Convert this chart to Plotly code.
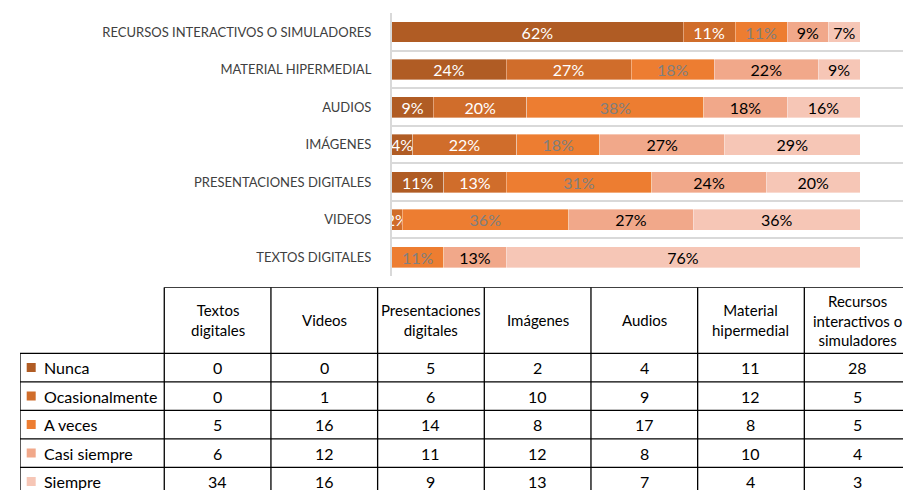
import plotly.graph_objects as go

# categories, bottom bar first (same order as the table columns)
categories = ["Textos digitales", "Videos", "Presentaciones digitales", "Imágenes",
              "Audios", "Material hipermedial", "Recursos interactivos o simuladores"]
table_headers = ["Textos<br>digitales", "Videos", "Presentaciones<br>digitales", "Imágenes",
                 "Audios", "Material<br>hipermedial", "Recursos<br>interactivos o<br>simuladores"]

series_names = ["Nunca", "Ocasionalmente", "A veces", "Casi siempre", "Siempre"]
nunca = [0, 0, 5, 2, 4, 11, 28]
ocasionalmente = [0, 1, 6, 10, 9, 12, 5]
a_veces = [5, 16, 14, 8, 17, 8, 5]
casi_siempre = [6, 12, 11, 12, 8, 10, 4]
siempre = [34, 16, 9, 13, 7, 4, 3]
series_values = [nunca, ocasionalmente, a_veces, casi_siempre, siempre]

colors = ["#B05C24", "#D06D2B", "#ED7D31", "#F1A88A", "#F6C6B6"]
text_colors = ["white", "white", "#7F7F7F", "black", "black"]

FONT = "Lato"
OFF = 8  # page body margin
W, H = 911 - OFF, 490 - OFF

totals = [sum(col) for col in zip(*series_values)]

fig = go.Figure()

# 100% stacked bars
for name, vals, col, tcol in zip(series_names, series_values, colors, text_colors):
    pct = [v / t for v, t in zip(vals, totals)]
    labels = [f"{p:.0%}" if v > 0 else "" for v, p in zip(vals, pct)]
    fig.add_trace(go.Bar(
        y=categories, x=pct, orientation="h", name=name,
        marker=dict(color=col, line=dict(color="rgba(255,255,255,0.45)", width=0.8)),
        text=labels, textposition="inside", insidetextanchor="middle", textangle=0,
        textfont=dict(family=FONT, size=16, color=tcol), cliponaxis=False,
        showlegend=False, hoverinfo="skip",
    ))

# data table drawn on a hidden second axis: columns 0..7, label column to the left
label_w = 144.3 / 106.7
row_h_hdr = 66 / 28.5
tx0 = (20 - OFF) / W
ty_top = 1 - (287.3 - OFF) / H
y_bottom = (490 - 353.3) / 28.5

line_style = dict(color="black", width=1.3)
shapes = []
n_cols = len(categories)
shapes.append(dict(type="line", xref="x2", yref="y2", x0=0, x1=n_cols,
                   y0=-row_h_hdr, y1=-row_h_hdr, line=line_style))
for r in range(len(series_names) + 1):
    shapes.append(dict(type="line", xref="x2", yref="y2", x0=-label_w, x1=n_cols,
                       y0=r, y1=r, line=line_style))
shapes.append(dict(type="line", xref="x2", yref="y2", x0=-label_w, x1=-label_w,
                   y0=0, y1=len(series_names), line=line_style))
for c in range(n_cols + 1):
    shapes.append(dict(type="line", xref="x2", yref="y2", x0=c, x1=c,
                       y0=-row_h_hdr, y1=len(series_names), line=line_style))

annotations = []
for c, hdr in enumerate(table_headers):
    annotations.append(dict(xref="x2", yref="y2", x=c + 0.5, y=-row_h_hdr / 2, text=hdr,
                            showarrow=False, font=dict(family=FONT, size=15, color="black"),
                            xanchor="center", yanchor="middle"))
for r, (name, vals) in enumerate(zip(series_names, series_values)):
    annotations.append(dict(xref="x2", yref="y2", x=-label_w + 21.7 / 106.7, y=r + 0.5,
                            text=name, showarrow=False, xanchor="left", yanchor="middle",
                            font=dict(family=FONT, size=16, color="black")))
    for c, v in enumerate(vals):
        annotations.append(dict(xref="x2", yref="y2", x=c + 0.5, y=r + 0.5, text=str(v),
                                showarrow=False, xanchor="center", yanchor="middle",
                                font=dict(family=FONT, size=16, color="black")))

# legend keys in the label column
fig.add_trace(go.Scatter(
    x=[-label_w + 11.2 / 106.7] * len(series_names),
    y=[r + 0.5 for r in range(len(series_names))],
    xaxis="x2", yaxis="y2", mode="markers",
    marker=dict(symbol="square", size=9, color=colors),
    showlegend=False, hoverinfo="skip",
))

fig.update_layout(
    width=W, height=H,
    margin=dict(l=0, r=0, t=0, b=0),
    paper_bgcolor="white", plot_bgcolor="white",
    barmode="stack", bargap=0.447,
    uniformtext=dict(minsize=16, mode="show"),
    xaxis=dict(domain=[(391.7 - OFF) / W, 1], range=[0, (911 - 391.7) / 468.3],
               visible=False, fixedrange=True),
    yaxis=dict(domain=[1 - (276 - OFF) / H, 1 - (13.3 - OFF) / H], type="category",
               tickson="boundaries", showgrid=True, gridcolor="#D9D9D9", gridwidth=1.5,
               showline=True, linecolor="#D9D9D9", linewidth=1.5, ticks="",
               ticklabelstandoff=16,
               tickfont=dict(family=FONT, size=13, color="#404040", textcase="upper")),
    xaxis2=dict(domain=[tx0, 1], range=[-label_w, n_cols], visible=False, anchor="y2"),
    yaxis2=dict(domain=[0, ty_top], range=[y_bottom, -row_h_hdr], visible=False, anchor="x2"),
    shapes=shapes,
    annotations=annotations,
)

fig.write_html("out.html")
